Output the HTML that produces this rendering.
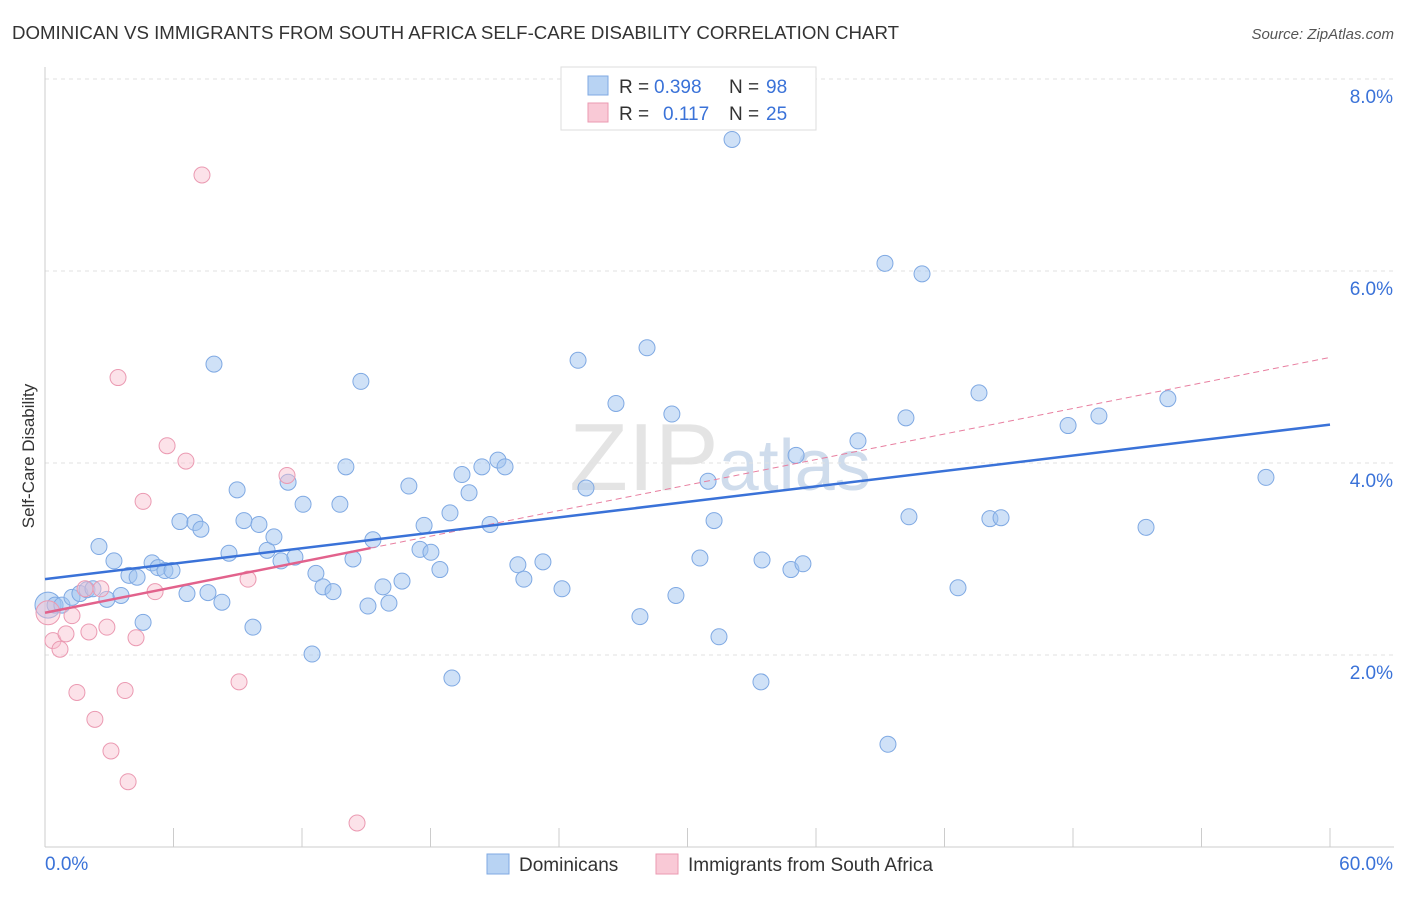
<!DOCTYPE html>
<html><head><meta charset="utf-8"><style>
body{margin:0;background:#fff;font-family:"Liberation Sans",sans-serif;}
svg text{font-family:"Liberation Sans",sans-serif;}
</style></head><body>
<svg id="chart" width="1406" height="892">
<text x="12" y="39" font-size="18" fill="#333" textLength="887" lengthAdjust="spacingAndGlyphs">DOMINICAN VS IMMIGRANTS FROM SOUTH AFRICA SELF-CARE DISABILITY CORRELATION CHART</text>
<text x="1394" y="39" font-size="15" fill="#555" text-anchor="end" font-style="italic">Source: ZipAtlas.com</text>
<text x="34" y="456" font-size="17" fill="#333" text-anchor="middle" transform="rotate(-90 34 456)">Self-Care Disability</text>
<text x="720" y="490" font-size="96" fill="#e4e4e4" text-anchor="middle" font-family="Liberation Serif">ZIP<tspan fill="#cfdcec" font-family="Liberation Sans" font-size="72">atlas</tspan></text>
<g id="grid"></g><g id="axes"></g><g id="marks"></g>
<g>
<rect x="561" y="67" width="255" height="63" fill="#fff" stroke="#ddd"/>
<rect x="588" y="76" width="20" height="19" fill="#b8d3f3" stroke="#7fa9e3"/>
<text x="619" y="93" font-size="19" fill="#333">R =</text>
<text x="654" y="93" font-size="19" fill="#3a72d8">0.398</text>
<text x="729" y="93" font-size="19" fill="#333">N =</text>
<text x="766" y="93" font-size="19" fill="#3a72d8">98</text>
<rect x="588" y="103" width="20" height="19" fill="#f9c9d6" stroke="#eb9ab2"/>
<text x="619" y="120" font-size="19" fill="#333">R =</text>
<text x="663" y="120" font-size="19" fill="#3a72d8">0.117</text>
<text x="729" y="120" font-size="19" fill="#333">N =</text>
<text x="766" y="120" font-size="19" fill="#3a72d8">25</text>
</g>
<g>
<rect x="487" y="854" width="22" height="20" fill="#b8d3f3" stroke="#7fa9e3"/>
<text x="519" y="871" font-size="19" fill="#333">Dominicans</text>
<rect x="656" y="854" width="22" height="20" fill="#f9c9d6" stroke="#eb9ab2"/>
<text x="688" y="871" font-size="19" fill="#333">Immigrants from South Africa</text>
</g>
</svg>
<script>
const yTicks=[2,4,6,8];
const yTickLabels=["2.0%","4.0%","6.0%","8.0%"];
const xTickLabels=["0.0%","60.0%"];
const blueX=[0.14,0.47,0.79,1.26,1.63,1.96,2.24,2.52,2.89,3.22,3.55,3.92,4.30,4.58,5.00,5.28,5.60,5.93,6.30,6.63,7.00,7.28,7.61,7.89,8.26,8.59,8.97,9.29,9.71,9.99,10.37,10.69,11.02,11.35,11.67,12.05,12.47,12.65,12.98,13.45,13.77,14.05,14.38,14.75,15.08,15.31,15.78,16.06,16.67,16.99,17.51,17.70,18.02,18.44,18.91,19.00,19.47,19.80,20.40,20.78,21.15,21.48,22.08,22.36,23.25,24.14,24.89,25.26,26.66,27.78,28.11,29.27,29.46,30.58,30.96,31.24,31.47,32.08,33.43,33.48,34.83,35.07,35.39,37.96,39.22,39.36,40.20,40.34,40.95,42.63,43.61,44.12,44.64,47.77,49.21,51.41,52.43,57.01];
const blueY=[2.52,2.52,2.52,2.60,2.64,2.68,2.69,3.13,2.58,2.98,2.62,2.83,2.81,2.34,2.96,2.91,2.88,2.88,3.39,2.64,3.38,3.31,2.65,5.03,2.55,3.06,3.72,3.40,2.29,3.36,3.09,3.23,2.98,3.80,3.02,3.57,2.01,2.85,2.71,2.66,3.57,3.96,3.00,4.85,2.51,3.20,2.71,2.54,2.77,3.76,3.10,3.35,3.07,2.89,3.48,1.76,3.88,3.69,3.96,3.36,4.03,3.96,2.94,2.79,2.97,2.69,5.07,3.74,4.62,2.40,5.20,4.51,2.62,3.01,3.81,3.40,2.19,7.37,1.72,2.99,2.89,4.08,2.95,4.23,6.08,1.07,4.47,3.44,5.97,2.70,4.73,3.42,3.43,4.39,4.49,3.33,4.67,3.85];
const pinkX=[0.14,0.37,0.70,0.98,1.26,1.49,1.87,2.05,2.33,2.61,2.89,3.08,3.41,3.74,3.88,4.25,4.58,5.14,5.70,6.58,7.33,9.06,9.48,11.30,14.57];
const pinkY=[2.44,2.15,2.06,2.22,2.41,1.61,2.69,2.24,1.33,2.69,2.29,1.00,4.89,1.63,0.68,2.18,3.60,2.66,4.18,4.02,7.00,1.72,2.79,3.87,0.25];
const blueTrend=[2.79,4.40];
const pinkTrend=[2.44,5.10];
const pinkSolidEnd=15.2;

const NS="http://www.w3.org/2000/svg";
const xs=v=>45+v/60*1285;
const ys=v=>847-v*96;
function mk(tag,attrs,parent){const e=document.createElementNS(NS,tag);for(const k in attrs)e.setAttribute(k,attrs[k]);document.getElementById(parent).appendChild(e);return e;}
yTicks.forEach((t,i)=>{
 const l=mk('line',{x1:45,x2:1394,y1:ys(t),y2:ys(t),stroke:'#e2e2e2','stroke-dasharray':'4 4'},'grid');
 
 
 const tx=mk('text',{x:1393,y:ys(t)+24,'font-size':19,fill:'#3a72d8','text-anchor':'end'},'axes');
 tx.textContent=yTickLabels[i];
 
 
});
const topGrid=mk('line',{x1:45,x2:1394,y1:79,y2:79,stroke:'#e2e2e2','stroke-dasharray':'4 4'},'grid');


const xa=mk('line',{x1:45,x2:1394,y1:847,y2:847,stroke:'#ccc'},'axes');


const ya=mk('line',{x1:45,x2:45,y1:67,y2:847,stroke:'#ccc'},'axes');


for(let i=0;i<=10;i++){
 const t=mk('line',{x1:xs(i*6),x2:xs(i*6),y1:828,y2:847,stroke:'#ccc'},'axes');
 
 
}
[[xTickLabels[0],'start',45],[xTickLabels[1],'end',1393]].forEach(([s,a,x])=>{
 const tx=mk('text',{x:x,y:870,'font-size':19,fill:'#3a72d8','text-anchor':a},'axes');
 tx.textContent=s;
 
 
});
blueX.forEach((x,i)=>{
 const c=mk('circle',{cx:xs(x),cy:ys(blueY[i]),r:i==0?13:8,fill:'rgba(160,196,240,0.5)',stroke:'#7fa9e3','stroke-width':1},'marks');
 
 
});
pinkX.forEach((x,i)=>{
 const c=mk('circle',{cx:xs(x),cy:ys(pinkY[i]),r:i==0?12:8,fill:'rgba(248,190,206,0.45)',stroke:'#eb9ab2','stroke-width':1},'marks');
 
 
});
const pv=x=>pinkTrend[0]+(pinkTrend[1]-pinkTrend[0])*x/60;
const pd=mk('line',{x1:xs(pinkSolidEnd),y1:ys(pv(pinkSolidEnd)),x2:xs(60),y2:ys(pinkTrend[1]),stroke:'#e87fa0','stroke-width':1,'stroke-dasharray':'6 4'},'marks');


const bt=mk('line',{x1:xs(0),y1:ys(blueTrend[0]),x2:xs(60),y2:ys(blueTrend[1]),stroke:'#3a72d8','stroke-width':2.5},'marks');


const pt=mk('line',{x1:xs(0),y1:ys(pinkTrend[0]),x2:xs(pinkSolidEnd),y2:ys(pv(pinkSolidEnd)),stroke:'#e2628c','stroke-width':2.5},'marks');


</script>
</body></html>
